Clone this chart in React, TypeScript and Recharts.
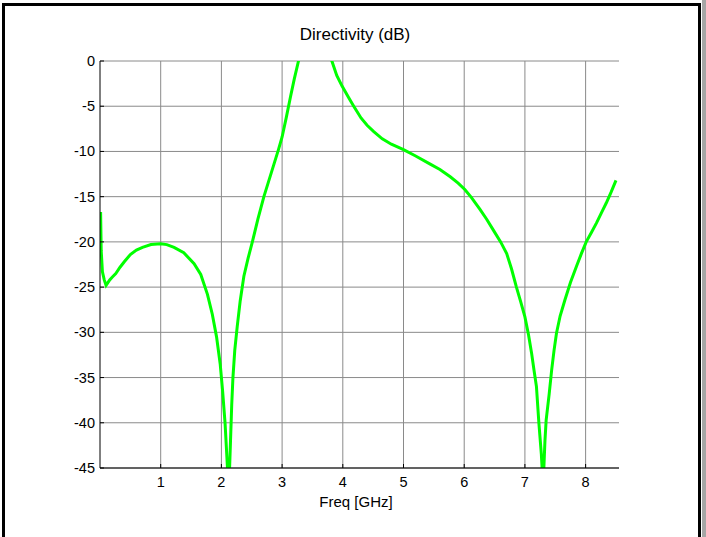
import React from "react"
import { LineChart, Line, XAxis, YAxis, CartesianGrid } from "recharts"

// frequency (GHz) and directivity (dB)
const freq = [
  0.01, 0.02, 0.04, 0.07, 0.1, 0.13, 0.16, 0.2, 0.26, 0.33, 0.4, 0.5, 0.6, 0.7, 0.84, 1.0, 1.1, 1.22, 1.38,
  1.55, 1.66, 1.77, 1.85, 1.92, 1.98, 2.02, 2.06, 2.1, 2.12, 2.15, 2.17, 2.19, 2.22, 2.26, 2.31, 2.37, 2.44,
  2.51, 2.6, 2.7, 2.82, 2.94, 3.0, 3.07, 3.14, 3.2, 3.27, 3.35, 3.5, 3.65, 3.75, 3.82, 3.9, 3.99, 4.1, 4.18,
  4.3, 4.4, 4.51, 4.65, 4.8, 5.0, 5.2, 5.44, 5.6, 5.77, 5.9, 6.01, 6.12, 6.26, 6.37, 6.48, 6.6, 6.7, 6.78,
  6.86, 6.93, 7.0, 7.06, 7.11, 7.15, 7.19, 7.23, 7.27, 7.3, 7.33, 7.35, 7.4, 7.44, 7.48, 7.52, 7.58, 7.66,
  7.75, 7.85, 7.93, 8.01, 8.1, 8.18, 8.26, 8.34, 8.42, 8.5,
]
const directivity = [
  -16.7, -21.0, -23.3, -24.2, -24.8, -24.5, -24.2, -23.9, -23.5, -22.8, -22.2, -21.4, -20.9, -20.6, -20.3,
  -20.2, -20.3, -20.6, -21.2, -22.4, -23.6, -25.8, -28.0, -30.5, -33.5, -36.5, -40.0, -45.0, -48.0, -42.0,
  -38.0, -35.0, -32.0, -29.4, -26.5, -23.8, -21.8, -20.0, -17.5, -15.0, -12.4, -9.8, -8.4, -6.2, -3.9, -2.0,
  0.0, 1.8, 3.0, 2.5, 1.0, 0.0, -1.6, -2.8, -4.1, -5.0, -6.3, -7.1, -7.8, -8.6, -9.2, -9.8, -10.5, -11.4,
  -12.0, -12.8, -13.5, -14.2, -15.1, -16.4, -17.5, -18.7, -20.0, -21.3, -23.0, -25.0, -26.6, -28.3, -30.3,
  -32.3, -34.2, -36.0, -40.0, -43.4, -47.0, -42.0, -39.7, -36.8, -34.2, -32.0, -30.1, -28.2, -26.4, -24.5,
  -22.7, -21.3, -20.0, -18.9, -17.9, -16.8, -15.7, -14.5, -13.2,
]
const xTicks = [1, 2, 3, 4, 5, 6, 7, 8]
const yTicks = [-45, -40, -35, -30, -25, -20, -15, -10, -5, 0]

const data = freq.map((f, i) => ({ f, d: directivity[i] }))

const font = "'Liberation Sans', Arial, sans-serif"

const BottomTick = ({ x, y, payload }: any) => (
  <g>
    <line x1={x} x2={x} y1={y} y2={y - 4} stroke="#000" />
    <text x={x} y={y + 19} textAnchor="middle" fontSize={14.5} fontFamily={font} fill="#000">
      {payload.value}
    </text>
  </g>
)
const TopTick = ({ x, y }: any) => <line x1={x} x2={x} y1={y} y2={y + 4} stroke="#000" />
const LeftTick = ({ x, y, payload }: any) => (
  <g>
    <line x1={x} x2={x + 4} y1={y} y2={y} stroke="#000" />
    <text x={x - 5} y={y + 5} textAnchor="end" fontSize={14.5} fontFamily={font} fill="#000">
      {payload.value}
    </text>
  </g>
)
const RightTick = ({ x, y }: any) => <line x1={x} x2={x - 4} y1={y} y2={y} stroke="#000" />

export default function App() {
  return (
    <div style={{ position: "absolute", left: 0, top: 0, width: 706, height: 537, background: "#fff", overflow: "hidden" }}>
      <div
        style={{
          position: "absolute",
          left: 2,
          top: 3,
          width: 699,
          height: 600,
          border: "3px solid #000",
          boxSizing: "border-box",
        }}
      />
      <div style={{ position: "absolute", left: 702, top: 0, width: 4, height: 537, background: "#a6a6a6" }} />
      <div
        style={{
          position: "absolute",
          left: 255,
          width: 200,
          top: 25,
          textAlign: "center",
          fontFamily: font,
          fontSize: 17,
          color: "#000",
        }}
      >
        Directivity (dB)
      </div>
      <div
        style={{
          position: "absolute",
          left: 256,
          width: 200,
          top: 493,
          textAlign: "center",
          fontFamily: font,
          fontSize: 15,
          color: "#000",
        }}
      >
        Freq [GHz]
      </div>
      <div style={{ position: "absolute", left: 0, top: 0 }}>
        <LineChart width={706} height={537} data={data} margin={{ top: 61, right: 87, bottom: 0, left: 0 }}>
          <CartesianGrid stroke="#8a8a8a" strokeWidth={1} syncWithTicks />
          <XAxis
            dataKey="f"
            type="number"
            domain={[0, 8.55]}
            ticks={xTicks}
            height={69}
            tickSize={0}
            tickMargin={0}
            tickLine={false}
            axisLine={{ stroke: "#000" }}
            tick={<BottomTick />}
            allowDataOverflow
          />
          <XAxis
            xAxisId="top"
            dataKey="f"
            type="number"
            orientation="top"
            domain={[0, 8.55]}
            ticks={xTicks}
            height={0}
            tickSize={0}
            tickMargin={0}
            tickLine={false}
            axisLine={false}
            tick={<TopTick />}
          />
          <YAxis
            type="number"
            domain={[-45, 0]}
            ticks={yTicks}
            width={100}
            tickSize={0}
            tickMargin={0}
            tickLine={false}
            axisLine={{ stroke: "#000" }}
            tick={<LeftTick />}
            allowDataOverflow
          />
          <YAxis
            yAxisId="r"
            orientation="right"
            type="number"
            domain={[-45, 0]}
            ticks={yTicks}
            width={0}
            tickSize={0}
            tickMargin={0}
            tickLine={false}
            axisLine={false}
            tick={<RightTick />}
            allowDataOverflow
          />
          <Line
            type="linear"
            dataKey="d"
            stroke="#00ff00"
            strokeWidth={3}
            dot={false}
            isAnimationActive={false}
          />
        </LineChart>
      </div>
    </div>
  )
}
